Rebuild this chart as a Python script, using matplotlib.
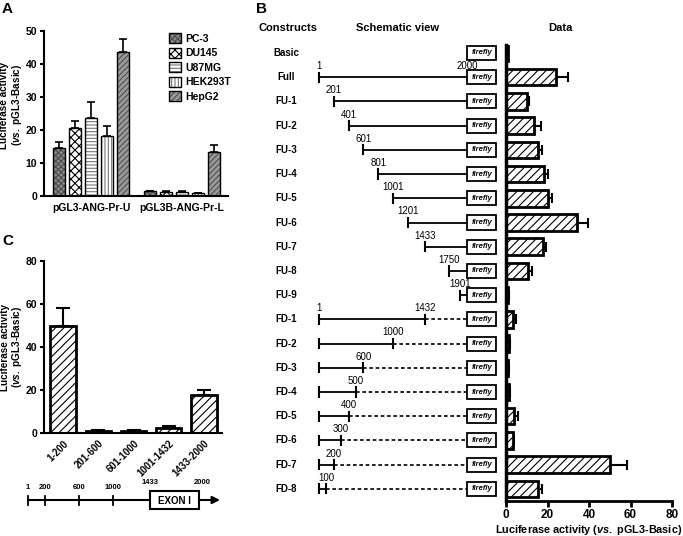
import matplotlib
matplotlib.use('Agg')
import numpy as np
import matplotlib.pyplot as plt
from matplotlib.patches import Rectangle, Patch
from matplotlib.transforms import blended_transform_factory

plt.rcParams['font.family'] = ['Liberation Sans', 'DejaVu Sans']
plt.rcParams['font.weight'] = 'bold'
plt.rcParams['axes.labelweight'] = 'bold'
plt.rcParams['mathtext.fontset'] = 'custom'
plt.rcParams['mathtext.it'] = 'Liberation Sans:bold:italic'
plt.rcParams['mathtext.rm'] = 'Liberation Sans:bold'
plt.rcParams['hatch.linewidth'] = 0.8

# ---------------- data ----------------
# Panel A
a_groups = ['pGL3-ANG-Pr-U', 'pGL3B-ANG-Pr-L']
a_cells = ['PC-3', 'DU145', 'U87MG', 'HEK293T', 'HepG2']
a_values = [[14.5, 20.5, 23.7, 18.1, 43.5],
            [1.4, 1.2, 1.2, 0.8, 13.2]]
a_upper = [[16.3, 22.7, 28.5, 21.3, 47.5],
           [1.6, 1.5, 1.5, 0.9, 15.5]]
a_yticks = [0, 10, 20, 30, 40, 50]

# Panel B
b_constructs = ['Basic', 'Full', 'FU-1', 'FU-2', 'FU-3', 'FU-4', 'FU-5', 'FU-6',
                'FU-7', 'FU-8', 'FU-9', 'FD-1', 'FD-2', 'FD-3', 'FD-4', 'FD-5',
                'FD-6', 'FD-7', 'FD-8']
b_start = [None, 1, 201, 401, 601, 801, 1001, 1201, 1433, 1750, 1901,
           1, 1, 1, 1, 1, 1, 1, 1]
b_end = [None, 2000, 2000, 2000, 2000, 2000, 2000, 2000, 2000, 2000, 2000,
         1432, 1000, 600, 500, 400, 300, 200, 100]
b_values = [0.8, 24.0, 10.0, 13.5, 15.5, 18.3, 20.3, 34.3, 17.8, 10.6, 1.0,
            3.4, 1.5, 1.0, 1.3, 4.0, 3.3, 50.2, 15.5]
b_upper = [1.1, 30.0, 11.0, 17.0, 17.3, 20.3, 22.0, 39.6, 19.4, 12.3, 1.4,
           4.8, 1.9, 1.3, 1.7, 5.7, 4.0, 58.3, 17.5]
b_xticks = [0, 20, 40, 60, 80]

# Panel C
c_labels = ['1-200', '201-600', '601-1000', '1001-1432', '1433-2000']
c_values = [50.0, 0.8, 0.8, 2.2, 17.5]
c_upper = [58.0, 1.2, 1.2, 3.2, 20.0]
c_yticks = [0, 20, 40, 60, 80]
gene_ticks = [1, 200, 600, 1000]
exon_start, exon_end = 1433, 2000

# ---------------- layout ----------------
W, H = 683, 536
fig = plt.figure(figsize=(W / 100, H / 100), dpi=100)


def px_axes(l, t, r, b):
    return fig.add_axes([l / W, 1 - b / H, (r - l) / W, (b - t) / H])


def style_axes(ax, lw=1.5):
    for s in ['top', 'right']:
        ax.spines[s].set_visible(False)
    for s in ['left', 'bottom']:
        ax.spines[s].set_linewidth(lw)
    ax.tick_params(width=lw, length=3, labelsize=7.5, pad=2)


ylab = 'Luciferase activity\n($\\it{vs.}$ pGL3-Basic)'

# ---------------- Panel A ----------------
axA = px_axes(44, 31, 228, 196)
style_axes(axA)
group_gap = 5.69
a_face = ['#8a8a8a', 'white', 'white', 'white', '#9a9a9a']
a_hcol = ['#4a4a4a', 'black', '#777777', '#777777', '#505050']
a_hatch = ['xxxxxx', 'xxxx', '-----', '|||||', '//////']
for g in range(len(a_groups)):
    for i in range(len(a_cells)):
        x = g * group_gap + i
        v = a_values[g][i]
        axA.bar(x, v, width=0.75, color=a_face[i], edgecolor=a_hcol[i],
                hatch=a_hatch[i], linewidth=0, zorder=2)
        axA.bar(x, v, width=0.75, fill=False, edgecolor='black', linewidth=1.0, zorder=3)
        axA.errorbar(x, v, yerr=[[0], [a_upper[g][i] - v]], fmt='none', ecolor='black',
                     elinewidth=1.2, capsize=3.2, capthick=1.2, zorder=1)
axA.set_xlim(-0.94, 10.56)
axA.set_ylim(0, 50)
axA.set_yticks(a_yticks)
axA.set_xticks([g * group_gap + 2 for g in range(len(a_groups))])
axA.set_xticklabels(a_groups, fontsize=7.5)
axA.tick_params(axis='x', length=0, pad=5)
axA.set_ylabel(ylab, fontsize=7.2, fontweight='bold', linespacing=1.05)
axA.yaxis.set_label_coords(-0.109, 0.55)
handles = [(Patch(facecolor=a_face[i], edgecolor=a_hcol[i], hatch=a_hatch[i], linewidth=0),
            Patch(fill=False, edgecolor='black', linewidth=1.0)) for i in range(len(a_cells))]
fig.legend(handles, a_cells, loc='upper left', bbox_to_anchor=(162 / W, 1 - 26 / H),
           frameon=False, fontsize=7.5, handlelength=1.1, handleheight=1.1,
           labelspacing=0.38, handletextpad=0.4, borderpad=0.2)

# ---------------- Panel C ----------------
axC = px_axes(44, 261, 222, 433)
style_axes(axC)
xc = np.arange(len(c_labels))
axC.bar(xc, c_values, width=0.72, color='white', edgecolor='black', hatch='////',
        linewidth=2, zorder=2)
axC.errorbar(xc, c_values, yerr=[np.zeros(len(xc)), np.array(c_upper) - np.array(c_values)],
             fmt='none', ecolor='black', elinewidth=1.5, capsize=5, capthick=1.5, zorder=1)
axC.set_xlim(-0.54, 4.51)
axC.set_ylim(0, 80)
axC.set_yticks(c_yticks)
axC.set_xticks(xc)
axC.set_xticklabels(c_labels, rotation=45, ha='right', rotation_mode='anchor', fontsize=7)
axC.tick_params(axis='x', length=0, pad=4)
axC.set_ylabel(ylab, fontsize=7.2, fontweight='bold', linespacing=1.05)
axC.yaxis.set_label_coords(-0.112, 0.5)

# gene diagram
axG = px_axes(0, 470, 240, 520)
axG.set_xlim(1 - 28 * 1999 / 171, 1 + 212 * 1999 / 171)
axG.set_ylim(520, 470)
axG.axis('off')
tip = 1 + 192 * 1999 / 171
axG.annotate('', xy=(tip, 500), xytext=(1, 500),
             arrowprops=dict(arrowstyle='-|>', lw=1.5, color='black', mutation_scale=11,
                             shrinkA=0, shrinkB=0))
for n in gene_ticks:
    axG.plot([n, n], [495.5, 504.5], color='black', lw=1.3)
    axG.text(n, 491, str(n), ha='center', va='bottom', fontsize=5.5)
axG.add_patch(Rectangle((exon_start, 491), exon_end - exon_start, 18, facecolor='white',
                        edgecolor='black', lw=1.5, zorder=3))
axG.text((exon_start + exon_end) / 2, 500.5, 'EXON I', ha='center', va='center', fontsize=7, zorder=4)
axG.text(exon_start, 486, str(exon_start), ha='center', va='bottom', fontsize=5.5)
axG.text(exon_end + 40, 486, str(exon_end), ha='center', va='bottom', fontsize=5.5)

# ---------------- Panel B ----------------
axB = px_axes(506, 45, 672, 501)
for s in ['top', 'right']:
    axB.spines[s].set_visible(False)
axB.spines['left'].set_linewidth(2.5)
axB.spines['bottom'].set_linewidth(2.0)
yb = np.arange(len(b_constructs))
bv = np.array(b_values)
axB.barh(yb, bv, height=0.68, color='white', edgecolor='black', hatch='////',
         linewidth=2, zorder=2)
axB.errorbar(bv, yb, xerr=[np.zeros(len(yb)), np.array(b_upper) - bv], fmt='none',
             ecolor='black', elinewidth=1.5, capsize=3.5, capthick=1.5, zorder=1)
axB.set_ylim(18.5, -0.33)
axB.set_xlim(0, 80)
axB.set_yticks([])
axB.set_xticks(b_xticks)
axB.tick_params(axis='x', width=2, length=4, labelsize=8.5, pad=2)
axB.set_xlabel('Luciferase activity ($\\it{vs.}$ pGL3-Basic)', fontsize=7.8,
               fontweight='bold', labelpad=1)

axS = px_axes(250, 45, 505, 501)
axS.set_xlim(1 - 69 / 0.0741, 1 + 186 / 0.0741)
axS.set_ylim(18.5, -0.33)
axS.axis('off')
box_w = 29 / 0.0741
tk = 0.19
lab_off = 0.46
for i, name in enumerate(b_constructs):
    axS.add_patch(Rectangle((2000, i - 0.29), box_w, 0.58, facecolor='white',
                            edgecolor='black', lw=1.3, zorder=3))
    axS.text(2000 + box_w / 2, i, 'firefly', ha='center', va='center', fontsize=5.5,
             style='italic', zorder=4)
    s, e = b_start[i], b_end[i]
    if s is None:
        continue
    axS.plot([s, e], [i, i], color='black', lw=1.3, zorder=2)
    axS.plot([s, s], [i - tk, i + tk], color='black', lw=1.5, zorder=2)
    kw = dict(ha='center', va='center', fontsize=7, fontweight='normal')
    if e < 2000:
        axS.plot([e, e], [i - tk, i + tk], color='black', lw=1.5, zorder=2)
        axS.plot([e, 2000], [i, i], color='black', lw=1.2, ls=(0, (2.2, 1.6)), zorder=2)
        axS.text(e, i - lab_off, str(e), **kw)
        if i == b_end.index(1432):
            axS.text(s, i - lab_off, str(s), **kw)
    else:
        axS.text(s, i - lab_off, str(s), **kw)
        if s == 1:
            axS.text(e, i - lab_off, str(e), **kw)

tr = blended_transform_factory(fig.transFigure, axS.transData)
for i, name in enumerate(b_constructs):
    axS.text(286 / W, i, name, transform=tr, ha='center', va='center', fontsize=7)

fig.text(288 / W, 1 - 28 / H, 'Constructs', ha='center', va='center', fontsize=8)
fig.text(398 / W, 1 - 28 / H, 'Schematic view', ha='center', va='center', fontsize=8)
fig.text(560 / W, 1 - 28 / H, 'Data', ha='center', va='center', fontsize=8)

# panel letters
fig.text(2 / W, 1 - 2 / H, 'A', ha='left', va='top', fontsize=11)
fig.text(256 / W, 1 - 2 / H, 'B', ha='left', va='top', fontsize=11)
fig.text(2 / W, 1 - 234 / H, 'C', ha='left', va='top', fontsize=11)

fig.savefig('out.png', dpi=100)
